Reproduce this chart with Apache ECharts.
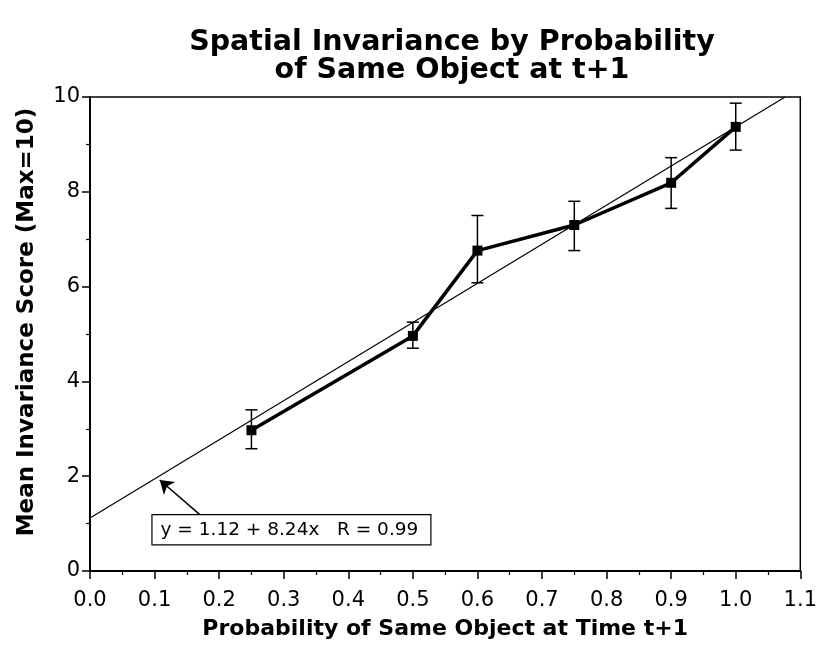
<!DOCTYPE html>
<html><head><meta charset="utf-8">
<script src="https://cdn.jsdelivr.net/npm/echarts@6/dist/echarts.min.js"></script>
<style>html,body{margin:0;padding:0;background:#fff}#c{width:820px;height:651px}</style>
</head><body><div id="c"></div>
<script>
const probs = [0.25, 0.5, 0.6, 0.75, 0.9, 1.0];
const means = [2.97, 4.96, 6.76, 7.30, 8.19, 9.37];
const errLow = [2.58, 4.70, 6.08, 6.76, 7.65, 8.88];
const errHigh = [3.40, 5.25, 7.50, 7.80, 8.72, 9.87];
const fitLine = [[0, 1.12], [1.0765, 10]];
const fitText = 'y = 1.12 + 8.24x   R = 0.99';
const arrowFrom = [0.171, 1.18];
const arrowTo = [0.108, 1.92];

const chart = echarts.init(document.getElementById('c'));
const F = '"DejaVu Sans", "Liberation Sans", Arial, sans-serif';
chart.setOption({
  animation: false,
  title: {
    text: 'Spatial Invariance by Probability\nof Same Object at t+1',
    left: 447, top: 24, textAlign: 'center',
    textStyle: {fontFamily: F, fontSize: 28.5, fontWeight: 'bold', color: '#000', lineHeight: 28}
  },
  grid: {left: 90, right: 17, top: 97, bottom: 80, show: true, borderColor: '#000', borderWidth: 1.5},
  xAxis: {
    type: 'value', min: 0, max: 1.1, interval: 0.1,
    name: 'Probability of Same Object at Time t+1', nameLocation: 'middle', nameGap: 47,
    nameTextStyle: {fontFamily: F, fontSize: 22, fontWeight: 'bold', color: '#000'},
    axisLine: {lineStyle: {color: '#000', width: 2}},
    axisTick: {show: true, length: 8, lineStyle: {color: '#000', width: 1.5}},
    minorTick: {show: true, splitNumber: 2, length: 4, lineStyle: {color: '#000', width: 1.2}},
    axisLabel: {fontFamily: F, fontSize: 21, color: '#000', margin: 19, formatter: v => v.toFixed(1)},
    splitLine: {show: false}
  },
  yAxis: {
    type: 'value', min: 0, max: 10, interval: 2,
    name: 'Mean Invariance Score (Max=10)', nameLocation: 'middle', nameGap: 51, nameRotate: 90,
    nameTextStyle: {fontFamily: F, fontSize: 23, fontWeight: 'bold', color: '#000', padding: [0, 0, 0, 24]},
    axisLine: {lineStyle: {color: '#000', width: 2}},
    axisTick: {show: true, length: 8, lineStyle: {color: '#000', width: 1.5}},
    minorTick: {show: true, splitNumber: 2, length: 4, lineStyle: {color: '#000', width: 1.2}},
    axisLabel: {fontFamily: F, fontSize: 21, color: '#000', margin: 10},
    splitLine: {show: false}
  },
  series: [
    {
      type: 'line', data: fitLine, symbol: 'none', silent: true,
      lineStyle: {color: '#000', width: 1.2},
      markLine: {
        silent: true, symbol: ['none', 'arrow'], symbolSize: 13,
        label: {show: false},
        lineStyle: {color: '#000', width: 1.5, type: 'solid'},
        data: [[{coord: arrowFrom}, {coord: arrowTo}]]
      }
    },
    {
      type: 'custom',
      renderItem: function (params, api) {
        const x = api.value(0);
        const lo = api.coord([x, api.value(1)]);
        const hi = api.coord([x, api.value(2)]);
        const w = 6;
        const st = {stroke: '#000', lineWidth: 1.5};
        return {type: 'group', children: [
          {type: 'line', shape: {x1: lo[0], y1: lo[1], x2: hi[0], y2: hi[1]}, style: st},
          {type: 'line', shape: {x1: lo[0] - w, y1: lo[1], x2: lo[0] + w, y2: lo[1]}, style: st},
          {type: 'line', shape: {x1: hi[0] - w, y1: hi[1], x2: hi[0] + w, y2: hi[1]}, style: st}
        ]};
      },
      data: probs.map((p, i) => [p, errLow[i], errHigh[i]]),
      z: 3
    },
    {
      type: 'line', data: probs.map((p, i) => [p, means[i]]),
      symbol: 'rect', symbolSize: 10, itemStyle: {color: '#000'},
      lineStyle: {color: '#000', width: 3.5}, z: 4
    }
  ]
});

// annotation box placed from data coordinates
const boxAnchor = chart.convertToPixel({gridIndex: 0}, [0.095, 1.2]);
chart.setOption({
  graphic: [{
    type: 'text', left: boxAnchor[0], top: boxAnchor[1],
    style: {
      text: fitText, font: '18.5px ' + F, fill: '#000',
      backgroundColor: '#fff', borderColor: '#000', borderWidth: 1.2,
      padding: [5, 12, 5, 8]
    }, z: 10
  }]
});
</script></body></html>
